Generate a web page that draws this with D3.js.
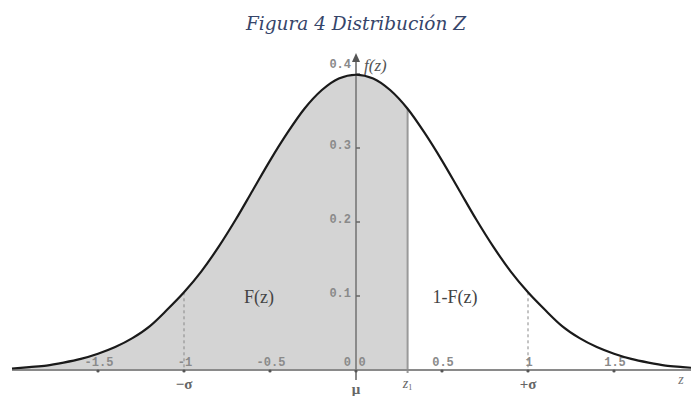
<!DOCTYPE html>
<html><head><meta charset="utf-8">
<script src="https://cdn.jsdelivr.net/npm/d3@7"></script>
<style>body{margin:0;background:#fff}svg{display:block}</style>
</head><body>
<svg id="c" width="691" height="396"></svg>
<script>
// Data
const zValues = [-2.0,-1.9,-1.8,-1.7,-1.6,-1.5,-1.4,-1.3,-1.2,-1.1,-1.0,-0.9,-0.8,-0.7,-0.6,-0.5,-0.4,-0.3,-0.2,-0.1,0.0,0.1,0.2,0.3,0.4,0.5,0.6,0.7,0.8,0.9,1.0,1.1,1.2,1.3,1.4,1.5,1.6,1.7,1.8,1.9,2.0];
const fValues = [0.002,0.004,0.006,0.010,0.015,0.022,0.031,0.043,0.059,0.081,0.105,0.133,0.166,0.203,0.243,0.283,0.320,0.353,0.378,0.394,0.399,0.394,0.378,0.353,0.320,0.283,0.243,0.203,0.166,0.133,0.105,0.081,0.059,0.043,0.031,0.022,0.015,0.010,0.006,0.004,0.002];
const xTicks = [-1.5,-1,-0.5,0,0.5,1,1.5];
const xTickLabels = ["-1.5","-1","-0.5","0","0.5","1","1.5"];
const yTicks = [0.1,0.2,0.3,0.4];
const yTickLabels = ["0.1","0.2","0.3","0.4"];
const zOne = 0.3;
const sigmaMarks = [-1, 1];
const title = "Figura 4 Distribución Z";

const svg = d3.select("#c");
const x = d3.scaleLinear().domain([-2, 2]).range([12, 700]);
const y = d3.scaleLinear().domain([0, 0.4]).range([370, 74]);
const pts = zValues.map((z,i)=>({z, f:fValues[i]}));
const fAt = z => pts.find(p=>Math.abs(p.z-z)<1e-9).f;

// title
svg.append("text").attr("x",356).attr("y",30).attr("text-anchor","middle")
  .attr("font-family","'DejaVu Serif', serif").attr("font-style","italic")
  .attr("font-size",18.5).attr("fill","#36456a").text(title);

// shaded area
const shade = pts.filter(p=>p.z<=zOne+1e-9);
svg.append("path").datum(shade)
  .attr("d", d3.area().x(d=>x(d.z)).y0(y(0)).y1(d=>y(d.f)).curve(d3.curveMonotoneX))
  .attr("fill","#d4d4d4");

// z1 line
svg.append("line").attr("x1",x(zOne)).attr("x2",x(zOne)).attr("y1",y(fAt(zOne))).attr("y2",y(0)+3)
  .attr("stroke","#999").attr("stroke-width",2);

// sigma dashed lines
sigmaMarks.forEach(s=>{
  svg.append("line").attr("x1",x(s)).attr("x2",x(s)).attr("y1",y(fAt(s))).attr("y2",y(0))
    .attr("stroke","#888").attr("stroke-width",1).attr("stroke-dasharray","3,3");
});

// x axis line
svg.append("line").attr("x1",12).attr("x2",691).attr("y1",y(0)).attr("y2",y(0))
  .attr("stroke","#8a8a8a").attr("stroke-width",2);
// y axis line
svg.append("line").attr("x1",x(0)).attr("x2",x(0)).attr("y1",y(0)+10).attr("y2",58)
  .attr("stroke","#8a8a8a").attr("stroke-width",2);
svg.append("path").attr("d",`M${x(0)-4},${62} L${x(0)},${53} L${x(0)+4},${62} Z`).attr("fill","#555");

const mono = "'Liberation Mono', 'DejaVu Sans Mono', monospace";
// x ticks
xTicks.forEach((t,i)=>{
  svg.append("circle").attr("cx",x(t)).attr("cy",y(0)+1).attr("r",1.6).attr("fill","#555");
  svg.append("text").attr("x",x(t)+(t===0?6:1)).attr("y",y(0)-4).attr("text-anchor","middle")
    .attr("font-family",mono).attr("font-size",12).attr("font-weight","bold").attr("fill","#8a8a8a")
    .text(xTickLabels[i]);
});
// y ticks
yTicks.forEach((t,i)=>{
  svg.append("line").attr("x1",x(0)).attr("x2",x(0)+4).attr("y1",y(t)).attr("y2",y(t))
    .attr("stroke","#666").attr("stroke-width",1.5);
  svg.append("text").attr("x",x(0)-5).attr("y",y(t)+(t===0.4?-6:1)).attr("text-anchor","end")
    .attr("font-family",mono).attr("font-size",12).attr("font-weight","bold").attr("fill","#8a8a8a")
    .text(yTickLabels[i]);
});
svg.append("text").attr("x",x(0)-5).attr("y",y(0)-4).attr("text-anchor","end")
  .attr("font-family",mono).attr("font-size",12).attr("font-weight","bold").attr("fill","#8a8a8a").text("0");

// curve
svg.append("path").datum(pts)
  .attr("d", d3.line().x(d=>x(d.z)).y(d=>y(d.f)).curve(d3.curveMonotoneX))
  .attr("fill","none").attr("stroke","#1a1a1a").attr("stroke-width",2.2);

// labels
const serif = "'Liberation Serif', 'DejaVu Serif', serif";
svg.append("text").attr("x",x(0)+8).attr("y",71).attr("font-family",serif).attr("font-style","italic")
  .attr("font-size",17).attr("fill","#555").text("f(z)");
svg.append("text").attr("x",259).attr("y",303).attr("text-anchor","middle").attr("font-family",serif)
  .attr("font-size",18).attr("fill","#444").text("F(z)");
svg.append("text").attr("x",455).attr("y",303).attr("text-anchor","middle").attr("font-family",serif)
  .attr("font-size",18).attr("fill","#444").text("1-F(z)");
const below = [
  {v:-1, t:"−σ", dy:19},
  {v:0, t:"μ", dy:24},
  {v:1, t:"+σ", dy:19}
];
below.forEach(b=>{
  svg.append("text").attr("x",x(b.v)).attr("y",y(0)+b.dy).attr("text-anchor","middle")
    .attr("font-family",serif).attr("font-size",15).attr("font-weight","bold").attr("fill","#666").text(b.t);
});
const z1 = svg.append("text").attr("x",x(zOne)).attr("y",y(0)+18).attr("text-anchor","middle")
  .attr("font-family",serif).attr("font-style","italic").attr("font-size",14).attr("fill","#666");
z1.append("tspan").text("z");
z1.append("tspan").attr("font-size",8).attr("dy",2).attr("font-style","normal").text("1");
svg.append("text").attr("x",681).attr("y",y(0)+14).attr("text-anchor","middle")
  .attr("font-family",serif).attr("font-style","italic").attr("font-size",14).attr("fill","#777").text("z");
</script>
</body></html>
